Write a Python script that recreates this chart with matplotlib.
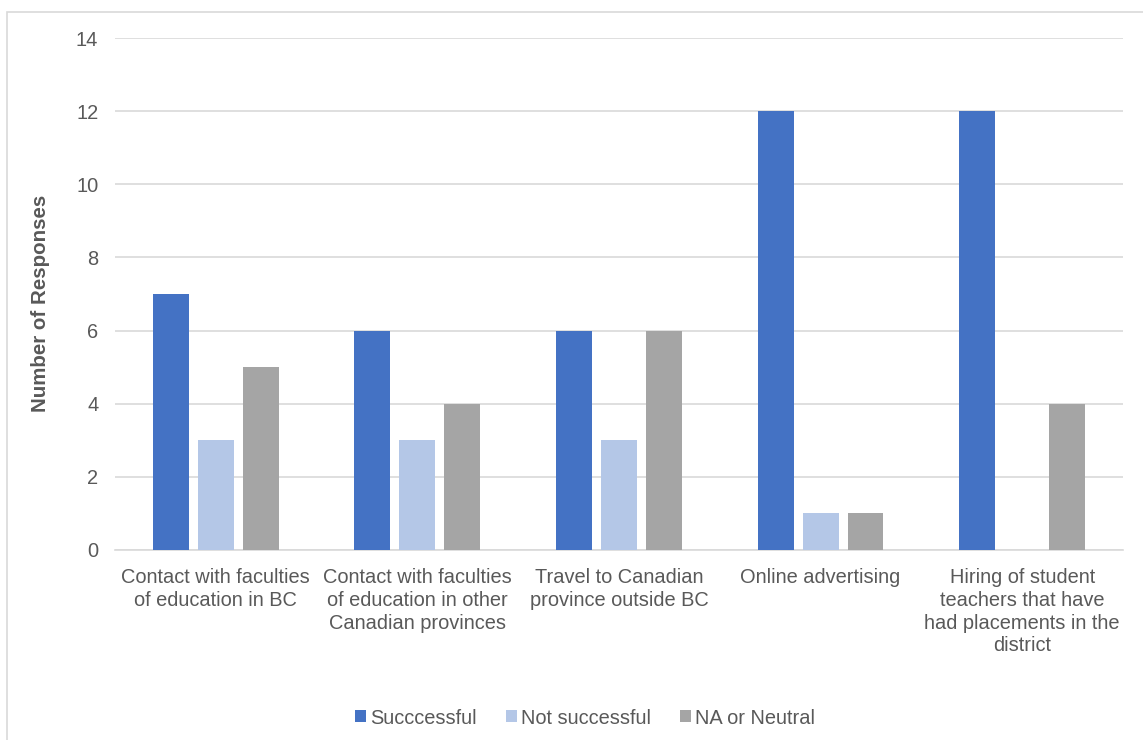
import matplotlib
matplotlib.use('Agg')
import matplotlib.pyplot as plt
from matplotlib.patches import Rectangle
import numpy as np

plt.rcParams['font.family'] = ['Liberation Sans', 'DejaVu Sans']

categories = [
    'Contact with faculties\nof education in BC',
    'Contact with faculties\nof education in other\nCanadian provinces',
    'Travel to Canadian\nprovince outside BC',
    'Online advertising',
    'Hiring of student\nteachers that have\nhad placements in the\ndistrict',
]
successful = [7, 6, 6, 12, 12]
not_successful = [3, 3, 3, 1, 0]
na_neutral = [5, 4, 6, 1, 4]
series_names = ['Succcessful', 'Not successful', 'NA or Neutral']

colors = ['#4472C4', '#B4C7E7', '#A5A5A5']
text_c = '#595959'
fs = 14.4

fig = plt.figure(figsize=(11.43, 7.4), dpi=100)
ax = fig.add_axes([0.1006, 0.2568, 0.8819, 0.6918])

# outer chart frame (runs off the right/bottom of the image)
fig.patches.append(Rectangle((7 / 1143, -0.05), 1.2, 1 - 12 / 740 + 0.05,
                             transform=fig.transFigure, fill=False,
                             edgecolor='#d9d9d9', lw=1.2, zorder=0))

x = np.arange(len(categories))
w = 0.178
off = 0.223
for i, (vals, name) in enumerate(zip([successful, not_successful, na_neutral], series_names)):
    ax.bar(x + (i - 1) * off, vals, width=w, color=colors[i], label=name, zorder=3)

ax.set_xlim(-0.5, len(categories) - 0.5)
ax.set_ylim(0, 14)
ax.set_yticks(range(0, 15, 2))
ax.grid(axis='y', color='#d9d9d9', lw=1.2, zorder=0)
for s in ['top', 'right', 'left']:
    ax.spines[s].set_visible(False)
ax.spines['bottom'].set_color('#d9d9d9')
ax.spines['bottom'].set_linewidth(1.2)
ax.tick_params(axis='both', length=0, colors=text_c, labelsize=fs)
ax.tick_params(axis='y', pad=12)
ax.set_xticks(x)
ax.set_xticklabels(categories, fontsize=fs, color=text_c, linespacing=1.25)
ax.tick_params(axis='x', pad=13)
ax.set_ylabel('Number of Responses', fontsize=14.8, fontweight='bold',
              color=text_c)
ax.yaxis.set_label_coords(-0.064, 0.482)

leg = fig.legend(loc='center', bbox_to_anchor=(0.512, 1 - 718 / 740), ncol=3,
                 frameon=False, fontsize=fs, handlelength=0.55, handleheight=0.55,
                 handletextpad=0.2, columnspacing=1.45)
for t in leg.get_texts():
    t.set_color(text_c)

fig.savefig('out.png', dpi=100, facecolor='white')
